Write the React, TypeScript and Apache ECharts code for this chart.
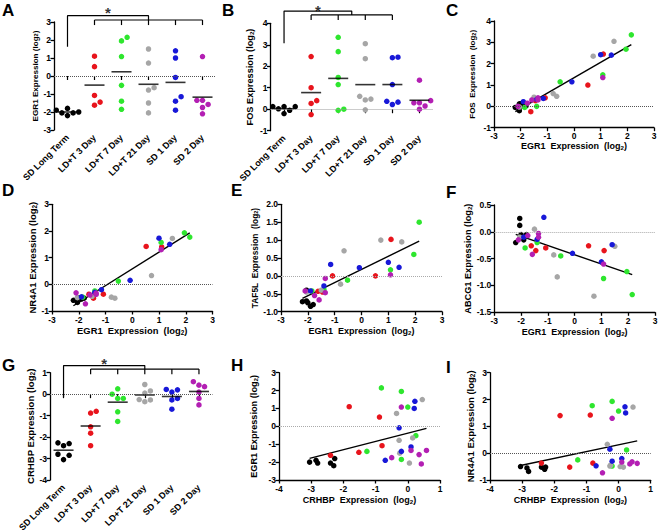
import React, { useEffect, useRef } from "react";
import * as echarts from "echarts";

const FONT = "'Liberation Sans', Arial, Helvetica, sans-serif";

const groups = ["SD Long Term", "LD+T 3 Day", "LD+T 7 Day", "LD+T 21 Day", "SD 1 Day", "SD 2 Day"];
const groupColors = ["#000000", "#e8141c", "#2ee62e", "#a6a6a6", "#1818d8", "#b31fb3"];

// log2 expression per animal; rows = groups, same animal order in every gene
const egr1 = [
  [-2.0, -1.9, -2.05, -2.05, -2.2, -1.8],
  [1.1, 0.52, -1.08, -1.45, -1.62],
  [2.15, 1.95, 1.08, -0.52, -1.4, -1.85],
  [1.5, 0.72, -0.65, -0.78, -1.5, -2.05],
  [1.4, 1.0, -0.08, -1.15, -1.4, -1.9],
  [1.08, -1.35, -1.35, -1.58, -1.75, -2.1],
];
const fos = [
  [0.12, 0.12, -0.2, 0.12, -0.05, 0.02],
  [2.45, 1.0, 0.4, 0.27, -0.25],
  [3.35, 2.68, 1.48, 1.15, 0.0, -0.05],
  [3.05, 2.35, 0.47, 0.6, 0.43, -0.03],
  [2.4, 2.42, 1.15, 0.37, 0.33, 0.22],
  [1.35, 0.4, 0.3, 0.3, 0.15, 0.0],
];
const nr4a1 = [
  [-0.5, -0.55, -0.68, -0.52, -0.6, -0.52],
  [1.4, 1.42, -0.37, -0.52, -0.37],
  [1.77, 1.93, 1.57, 0.12, -0.25, -0.48],
  [1.72, 0.33, -0.52, -0.48, -0.45, -0.5],
  [1.5, 1.73, 0.15, -0.2, -0.3, -0.47],
  [1.3, -0.33, -0.38, -0.4, -0.73, -0.32],
];
const taf5l = [
  [-0.75, -0.85, -0.7, -0.4, -0.72, -0.8],
  [1.02, 0.0, 0.0, -0.45, -0.43],
  [1.5, 0.6, 0.17, -0.12, -0.38, -0.42],
  [0.95, 1.0, 0.7, -0.23, -0.4, -0.45],
  [0.24, 0.38, 0.23, 0.32, -0.28, -0.42],
  [0.03, -0.07, -0.47, -0.67, -0.55, -0.42],
];
const abcg1 = [
  [-0.05, -0.15, 0.25, 0.12, -0.2, -0.05],
  [-0.35, -0.26, -0.3, -0.35, -0.26],
  [-1.17, -0.74, -0.87, -0.45, -0.2, -0.3],
  [-0.27, -1.2, -0.84, -0.43, 0.05, -0.1],
  [-0.24, -0.56, -0.4, 0.27, -0.14, -0.1],
  [-0.6, -0.03, -0.1, -0.42, -0.07, -0.15],
];
const crhbp = [
  [-3.05, -2.85, -2.8, -2.4, -2.3, -2.27],
  [-1.82, -0.88, -0.8, -1.52, -2.4],
  [-0.82, -0.2, 0.0, 0.25, -1.27, -0.2],
  [0.45, -0.35, 0.15, -0.27, -0.25, 0.05],
  [0.22, 0.2, -0.27, 0.1, -0.2, -0.7],
  [-0.2, 0.1, 0.58, 0.35, -0.5, 0.42],
];

const SP = "\u00a0";
const BLACK = "#000";
const axisLine = { color: BLACK, width: 1.3 };
const tickLabel = { fontSize: 8.5, fontWeight: "bold" as const, color: BLACK, fontFamily: FONT };

function nameStyle(size: number) {
  return {
    fontSize: size,
    fontWeight: "bold" as const,
    color: BLACK,
    fontFamily: FONT,
    rich: {
      s: { fontSize: size * 0.68, fontWeight: "bold" as const, color: BLACK, fontFamily: FONT, verticalAlign: "bottom" as const, lineHeight: 4 },
    },
  };
}

const mean = (a: number[]) => a.reduce((s, v) => s + v, 0) / a.length;

function swarm(vals: number[], pxPerUnit: number, d: number): number[] {
  const order = vals.map((_, i) => i).sort((a, b) => vals[a] - vals[b]);
  const placed: { dx: number; y: number }[] = [];
  const out = new Array(vals.length).fill(0);
  const cands = [0];
  for (let s = 1; s < 6; s++) cands.push(s * d, -s * d);
  for (const i of order) {
    const y = vals[i] * pxPerUnit;
    let chosen = 0;
    for (const c of cands) {
      if (placed.every((p) => (p.dx - c) ** 2 + (p.y - y) ** 2 >= d * d * 0.95)) {
        chosen = c;
        break;
      }
    }
    placed.push({ dx: chosen, y });
    out[i] = chosen;
  }
  return out;
}

const stripPanels = [
  {
    letter: "A", lx: 2, ly: 2, left: 54, top: 22, width: 162, height: 108, values: egr1,
    yMin: -3, yMax: 3, yName: "EGR1 Expression (log{s|2})", yNameSize: 8.1, yNameGap: 15, zero: "#555",
    br: { upper: 3.35, leftBottom: 1.63, lower: 3.11, tick: 2.83, from: 1, to: 5, star: 3.67 },
  },
  {
    letter: "B", lx: 222, ly: 2, left: 270.5, top: 23.3, width: 162.5, height: 107.4, values: fos,
    yMin: -1, yMax: 4, yName: "FOS Expression (log{s|2})", yNameSize: 9.2, yNameGap: 16, zero: "#999",
    br: { upper: 4.57, leftBottom: 3.07, lower: 4.39, tick: 4.15, from: 1, to: 4, star: 4.75 },
  },
  {
    letter: "G", lx: 2, ly: 357, left: 50, top: 372.7, width: 162.5, height: 107.3, values: crhbp,
    yMin: -4, yMax: 1, yName: "CRHBP Expression (log{s|2})", yNameSize: 9.6, yNameGap: 14, zero: "#555",
    br: { upper: 1.33, leftBottom: -0.12, lower: 1.17, tick: 0.93, from: 1, to: 5, star: 1.55 },
  },
];

const egrX = `EGR1${SP}${SP}Expression${SP}${SP}(log{s|2})`;
const crhX = `CRHBP${SP}${SP}Expression${SP}${SP}(log{s|2})`;

const scatterPanels = [
  {
    letter: "C", lx: 446, ly: 2, left: 494, top: 21, width: 160, height: 106.7, xs: egr1, ys: fos,
    xMin: -3, xMax: 3, yMin: -1, yMax: 4, yInt: 1, dec: 0,
    yName: `FOS${SP}${SP}Expression${SP}${SP}(log{s|2})`, yNameSize: 8, yNameGap: 18,
    xName: egrX, xNameSize: 9, xNameGap: 14, zero: "#555",
  },
  {
    letter: "D", lx: 2, ly: 182, left: 52, top: 204.3, width: 160.5, height: 106.7, xs: egr1, ys: nr4a1,
    xMin: -3, xMax: 3, yMin: -1, yMax: 3, yInt: 1, dec: 0,
    yName: "NR4A1 Expression (log{s|2})", yNameSize: 9.5, yNameGap: 14,
    xName: egrX, xNameSize: 9.4, xNameGap: 15, zero: "#555",
  },
  {
    letter: "E", lx: 231, ly: 182, left: 281, top: 204.3, width: 161, height: 107.4, xs: egr1, ys: taf5l,
    xMin: -3, xMax: 3, yMin: -1, yMax: 2, yInt: 0.5, dec: 1,
    yName: `TAF5L${SP}${SP}Expression${SP}${SP}(log{s|2})`, yNameSize: 8.3, yNameGap: 22,
    xName: egrX, xNameSize: 9, xNameGap: 15, zero: "#aaa",
  },
  {
    letter: "F", lx: 446, ly: 184, left: 494.3, top: 205, width: 160.7, height: 107.3, xs: egr1, ys: abcg1,
    xMin: -3, xMax: 3, yMin: -1.5, yMax: 0.5, yInt: 0.5, dec: 1,
    yName: "ABCG1 Expression (log{s|2})", yNameSize: 9.2, yNameGap: 21,
    xName: egrX, xNameSize: 9, xNameGap: 15, zero: "#aaa",
  },
  {
    letter: "H", lx: 231, ly: 357, left: 279, top: 372.7, width: 161, height: 107.3, xs: crhbp, ys: egr1,
    xMin: -4, xMax: 1, yMin: -3, yMax: 3, yInt: 1, dec: 0,
    yName: "EGR1 Expression (log{s|2})", yNameSize: 9.2, yNameGap: 21,
    xName: crhX, xNameSize: 9, xNameGap: 15, zero: "#aaa",
  },
  {
    letter: "I", lx: 446, ly: 359, left: 490, top: 372.7, width: 160.7, height: 107.3, xs: crhbp, ys: nr4a1,
    xMin: -4, xMax: 1, yMin: -1, yMax: 3, yInt: 1, dec: 0,
    yName: "NR4A1 Expression (log{s|2})", yNameSize: 9.5, yNameGap: 12,
    xName: crhX, xNameSize: 9, xNameGap: 15, zero: "#555",
  },
];

function zeroMark(color: string) {
  return {
    silent: true,
    symbol: ["none", "none"],
    label: { show: false },
    lineStyle: { type: "dotted" as const, color, width: 1 },
    data: [{ yAxis: 0 }],
  };
}

function valueAxisY(gridIndex: number, min: number, max: number, interval: number, dec: number, name: string, size: number, gap: number) {
  return {
    type: "value",
    gridIndex,
    min,
    max,
    interval,
    axisLine: { show: true, onZero: false, lineStyle: axisLine },
    axisTick: { show: true, length: 3.5, lineStyle: axisLine },
    axisLabel: { ...tickLabel, margin: 3, formatter: (v: number) => v.toFixed(dec) },
    splitLine: { show: false },
    name,
    nameLocation: "middle",
    nameRotate: 90,
    nameGap: gap,
    nameTextStyle: nameStyle(size),
  };
}

function buildOption() {
  const grid: any[] = [];
  const xAxis: any[] = [];
  const yAxis: any[] = [];
  const series: any[] = [];
  const graphic: any[] = [];

  const addLetter = (t: string, x: number, y: number) =>
    graphic.push({
      type: "text",
      x,
      y,
      silent: true,
      style: { text: t, fontSize: 17, fontWeight: "bold", fontFamily: FONT, fill: BLACK, verticalAlign: "top" },
    });

  for (const p of stripPanels) {
    const gi = grid.length;
    grid.push({ left: p.left, top: p.top, width: p.width, height: p.height, containLabel: false, outerBoundsMode: "none" });
    xAxis.push({
      type: "category",
      gridIndex: gi,
      data: groups,
      axisLine: { show: false },
      axisTick: { show: true, alignWithLabel: true, length: 4, lineStyle: { color: BLACK, width: 1.2 } },
      axisLabel: { ...tickLabel, fontSize: 9, rotate: 45, interval: 0, margin: 6 },
      splitLine: { show: false },
    });
    const valX = xAxis.length;
    xAxis.push({ type: "value", gridIndex: gi, min: -0.5, max: 5.5, show: false, splitLine: { show: false } });
    const yi = yAxis.length;
    yAxis.push(valueAxisY(gi, p.yMin, p.yMax, 1, 0, p.yName, p.yNameSize, p.yNameGap));

    const pxPerUnit = p.height / (p.yMax - p.yMin);
    p.values.forEach((vals, g) => {
      const offs = swarm(vals, pxPerUnit, 5.6);
      series.push({
        type: "scatter",
        xAxisIndex: valX,
        yAxisIndex: yi,
        symbolSize: 5.5,
        itemStyle: { color: groupColors[g], opacity: 1 },
        data: vals.map((v, i) => ({ value: [g, v], symbolOffset: [offs[i], 0] })),
        z: 3,
      });
    });
    series.push({
      type: "scatter",
      xAxisIndex: valX,
      yAxisIndex: yi,
      symbol: "rect",
      symbolSize: [20, 1.6],
      itemStyle: { color: BLACK },
      data: p.values.map((vals, g) => [g, mean(vals)]),
      z: 4,
      markLine: zeroMark(p.zero),
    });
    const b = p.br;
    const mid = (b.from + b.to) / 2;
    const seg = (pts: number[][]) =>
      series.push({
        type: "line",
        xAxisIndex: valX,
        yAxisIndex: yi,
        data: pts,
        symbol: "none",
        clip: false,
        silent: true,
        lineStyle: { color: BLACK, width: 1.2 },
        z: 5,
      });
    seg([[0, b.leftBottom], [0, b.upper], [mid, b.upper], [mid, b.lower]]);
    seg([[b.from, b.lower], [b.to, b.lower]]);
    for (let k = b.from; k <= b.to; k++) seg([[k, b.lower], [k, b.tick]]);
    series.push({
      type: "scatter",
      xAxisIndex: valX,
      yAxisIndex: yi,
      clip: false,
      silent: true,
      symbolSize: 2,
      itemStyle: { color: "rgba(0,0,0,0)" },
      data: [[mid / 2, b.star]],
      label: { show: true, position: "inside", formatter: "*", fontSize: 15, fontWeight: "bold", color: BLACK, fontFamily: FONT, offset: [0, 3] },
      z: 6,
    });
    addLetter(p.letter, p.lx, p.ly);
  }

  for (const p of scatterPanels) {
    const gi = grid.length;
    grid.push({ left: p.left, top: p.top, width: p.width, height: p.height, containLabel: false, outerBoundsMode: "none" });
    const xi = xAxis.length;
    xAxis.push({
      type: "value",
      gridIndex: gi,
      min: p.xMin,
      max: p.xMax,
      interval: 1,
      axisLine: { show: true, onZero: false, lineStyle: axisLine },
      axisTick: { show: true, length: 3.5, lineStyle: axisLine },
      axisLabel: { ...tickLabel, margin: 4, showMaxLabel: true, showMinLabel: true, hideOverlap: false },
      splitLine: { show: false },
      name: p.xName,
      nameLocation: "middle",
      nameGap: p.xNameGap,
      nameTextStyle: nameStyle(p.xNameSize),
    });
    const yi = yAxis.length;
    yAxis.push(valueAxisY(gi, p.yMin, p.yMax, p.yInt, p.dec, p.yName, p.yNameSize, p.yNameGap));

    const allX: number[] = [];
    const allY: number[] = [];
    p.xs.forEach((row, g) =>
      row.forEach((x, i) => {
        allX.push(x);
        allY.push(p.ys[g][i]);
      })
    );
    const mx = mean(allX);
    const my = mean(allY);
    let sxy = 0;
    let sxx = 0;
    allX.forEach((x, i) => {
      sxy += (x - mx) * (allY[i] - my);
      sxx += (x - mx) * (x - mx);
    });
    const slope = sxy / sxx;
    const icpt = my - slope * mx;
    const x0 = Math.min(...allX);
    const x1 = Math.max(...allX);
    series.push({
      type: "line",
      xAxisIndex: xi,
      yAxisIndex: yi,
      data: [[x0, icpt + slope * x0], [x1, icpt + slope * x1]],
      symbol: "none",
      silent: true,
      lineStyle: { color: BLACK, width: 1.4 },
      z: 2,
      markLine: zeroMark(p.zero),
    });
    p.xs.forEach((row, g) => {
      series.push({
        type: "scatter",
        xAxisIndex: xi,
        yAxisIndex: yi,
        symbolSize: 5.5,
        itemStyle: { color: groupColors[g], opacity: 1 },
        data: row.map((x, i) => [x, p.ys[g][i]]),
        z: 3,
      });
    });
    addLetter(p.letter, p.lx, p.ly);
  }

  return {
    animation: false,
    backgroundColor: "#fff",
    textStyle: { fontFamily: FONT },
    grid,
    xAxis,
    yAxis,
    series,
    graphic,
  };
}

export default function App() {
  const ref = useRef<HTMLDivElement>(null);
  useEffect(() => {
    const chart = echarts.init(ref.current!, null, { renderer: "svg" });
    chart.setOption(buildOption() as any);
    return () => chart.dispose();
  }, []);
  return (
    <div
      ref={ref}
      style={{ position: "absolute", left: 0, top: 0, width: 661, height: 532, background: "#fff" }}
    />
  );
}
